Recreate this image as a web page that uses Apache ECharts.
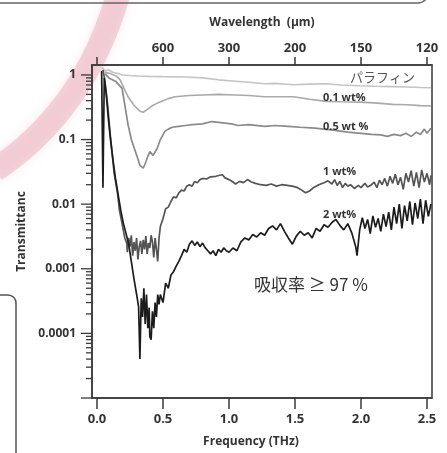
<!DOCTYPE html>
<html>
<head>
<meta charset="utf-8">
<script src="https://cdn.jsdelivr.net/npm/echarts@6/dist/echarts.min.js"></script>
<style>
  html, body { margin: 0; padding: 0; background: #fff; }
  #main { width: 447px; height: 453px; }
</style>
</head>
<body>
<div id="main"></div>
<script>
// frequency ticks (THz) and matching wavelength labels (um) on the top axis
var freqTicks = [0, 0.5, 1.0, 1.5, 2.0, 2.5];
var wavelengthLabels = ['', '600', '300', '200', '150', '120'];
var yLabels = { '-4': '0.0001', '-3': '0.001', '-2': '0.01', '-1': '0.1', '0': '1' };

// [frequency THz, transmittance]
var paraffin = [[0.04,1.3],[0.06,1.15],[0.09,1.2],[0.12,1.1],[0.16,1.05],[0.19,1.0],[0.25,0.98],[0.31,0.965],
  [0.40,0.95],[0.50,0.94],[0.67,0.93],[0.80,0.9],[0.92,0.84],[1.05,0.8],[1.15,0.77],[1.27,0.73],[1.35,0.74],
  [1.49,0.705],[1.61,0.72],[1.74,0.73],[1.85,0.70],[1.99,0.68],[2.10,0.67],[2.24,0.66],[2.35,0.65],[2.45,0.64],[2.53,0.635]];

var wt01 = [[0.06,1.1],[0.10,1.05],[0.15,0.95],[0.175,0.84],[0.205,0.62],[0.235,0.46],[0.28,0.34],[0.325,0.275],
  [0.35,0.265],[0.38,0.29],[0.415,0.33],[0.45,0.36],[0.49,0.39],[0.54,0.43],[0.59,0.46],[0.70,0.48],[0.80,0.49],
  [0.92,0.50],[1.05,0.49],[1.15,0.48],[1.27,0.46],[1.38,0.46],[1.49,0.46],[1.61,0.42],[1.74,0.39],[1.85,0.385],
  [1.99,0.38],[2.10,0.37],[2.24,0.35],[2.35,0.345],[2.45,0.335],[2.53,0.33]];

var wt05 = [[0.06,1.05],[0.09,0.9],[0.14,0.8],[0.19,0.62],[0.235,0.17],[0.26,0.10],[0.29,0.066],[0.31,0.05],
  [0.325,0.040],[0.35,0.036],[0.37,0.045],[0.38,0.052],[0.40,0.065],[0.425,0.057],[0.44,0.06],[0.455,0.072],
  [0.48,0.10],[0.515,0.135],[0.54,0.145],[0.57,0.155],[0.62,0.16],[0.67,0.165],[0.72,0.17],[0.80,0.175],
  [0.87,0.19],[0.92,0.185],[0.97,0.18],[1.02,0.175],[1.07,0.165],[1.15,0.17],[1.27,0.16],[1.35,0.165],
  [1.45,0.16],[1.54,0.155],[1.65,0.15],[1.79,0.14],[1.90,0.13],[2.00,0.125],[2.08,0.12],[2.15,0.118],
  [2.20,0.112],[2.25,0.12],[2.30,0.115],[2.34,0.125],[2.38,0.112],[2.42,0.13],[2.45,0.12],[2.48,0.145],
  [2.50,0.125],[2.53,0.15]];

var wt1 = [[0.045,1.2],[0.06,0.8],[0.08,0.35],[0.10,0.12],[0.115,0.06],[0.13,0.03],[0.155,0.015],[0.17,0.008],
  [0.19,0.005],[0.21,0.003],[0.225,0.0025],[0.23,0.0018],[0.24,0.0030],[0.25,0.0022],[0.26,0.0033],[0.27,0.0016],
  [0.28,0.0026],[0.29,0.0019],[0.30,0.0030],[0.31,0.0014],[0.32,0.0022],[0.33,0.0027],[0.34,0.0017],[0.35,0.0028],
  [0.36,0.0020],[0.37,0.0032],[0.38,0.0017],[0.39,0.0025],[0.40,0.0021],[0.41,0.0033],[0.42,0.0026],[0.43,0.0015],
  [0.44,0.0030],[0.45,0.0020],[0.46,0.0013],[0.47,0.0030],[0.48,0.0045],[0.50,0.0060],[0.52,0.0085],[0.54,0.0090],
  [0.56,0.0110],[0.58,0.0130],[0.60,0.0125],[0.62,0.0150],[0.64,0.0165],[0.66,0.0160],[0.68,0.0190],[0.70,0.0200],
  [0.72,0.0190],[0.74,0.0225],[0.76,0.0215],[0.78,0.0240],[0.80,0.0250],[0.83,0.0245],[0.86,0.0265],[0.90,0.0270],
  [0.93,0.0280],[0.95,0.0285],[0.97,0.0255],[1.00,0.0240],[1.03,0.0220],[1.05,0.0205],[1.08,0.0225],[1.11,0.0215],
  [1.14,0.0240],[1.17,0.0220],[1.20,0.0210],[1.24,0.0200],[1.28,0.0195],[1.32,0.0205],[1.36,0.0190],[1.40,0.0200],
  [1.44,0.0195],[1.48,0.0190],[1.52,0.0180],[1.55,0.0165],[1.58,0.0150],[1.61,0.0160],[1.64,0.0180],[1.68,0.0200],
  [1.72,0.0215],[1.75,0.0230],[1.78,0.0205],[1.80,0.0240],[1.82,0.0195],[1.84,0.0225],[1.86,0.0180],[1.88,0.0210],
  [1.90,0.0190],[1.92,0.0200],[1.95,0.0175],[1.98,0.0195],[2.00,0.0180],[2.03,0.0210],[2.05,0.0185],[2.08,0.0200],
  [2.10,0.0220],[2.12,0.0180],[2.14,0.0235],[2.16,0.0200],[2.18,0.0250],[2.20,0.0190],[2.22,0.0270],[2.24,0.0210],
  [2.26,0.0290],[2.28,0.0200],[2.30,0.0260],[2.32,0.0170],[2.34,0.0300],[2.36,0.0220],[2.38,0.0330],[2.40,0.0190],
  [2.42,0.0310],[2.44,0.0180],[2.46,0.0340],[2.48,0.0220],[2.50,0.0300],[2.52,0.0200],[2.53,0.0280]];

var wt2 = [[0.035,1.15],[0.045,0.018],[0.055,0.9],[0.07,0.5],[0.085,0.22],[0.10,0.11],[0.12,0.05],[0.14,0.025],
  [0.16,0.014],[0.18,0.008],[0.20,0.005],[0.22,0.0035],[0.24,0.0024],[0.26,0.0013],[0.28,0.0007],[0.30,0.0004],
  [0.315,0.00026],[0.325,0.00004],[0.335,0.00035],[0.345,0.00018],[0.355,0.0005],[0.365,0.00014],[0.375,0.0004],
  [0.385,0.00012],[0.395,0.00025],[0.40,0.00009],[0.41,0.00008],[0.42,0.00022],[0.43,0.00012],[0.44,0.0003],
  [0.45,0.00018],[0.46,0.0004],[0.47,0.00028],[0.48,0.0004],[0.50,0.0003],[0.52,0.0006],[0.54,0.0005],[0.56,0.0008],
  [0.58,0.0009],[0.60,0.0011],[0.62,0.0013],[0.64,0.0016],[0.66,0.0020],[0.68,0.0018],[0.70,0.0024],[0.72,0.0027],
  [0.74,0.0023],[0.76,0.0026],[0.78,0.0022],[0.80,0.0025],[0.82,0.0021],[0.84,0.0019],[0.86,0.0017],[0.88,0.0019],
  [0.90,0.0016],[0.92,0.0020],[0.94,0.0018],[0.96,0.0021],[0.98,0.0019],[1.00,0.0018],[1.03,0.0021],[1.06,0.0019],
  [1.09,0.0026],[1.12,0.0030],[1.15,0.0028],[1.18,0.0034],[1.21,0.0031],[1.24,0.0036],[1.27,0.0033],[1.30,0.0042],
  [1.33,0.0046],[1.36,0.0040],[1.39,0.0050],[1.42,0.0038],[1.45,0.0030],[1.48,0.0024],[1.51,0.0032],[1.54,0.0038],
  [1.57,0.0033],[1.60,0.0036],[1.63,0.0030],[1.66,0.0042],[1.69,0.0038],[1.72,0.0048],[1.75,0.0044],[1.78,0.0052],
  [1.81,0.0058],[1.84,0.0047],[1.87,0.0040],[1.90,0.0050],[1.93,0.0036],[1.96,0.0022],[1.97,0.0016],[1.99,0.0040],
  [2.01,0.0062],[2.03,0.0042],[2.05,0.0058],[2.07,0.0035],[2.09,0.0066],[2.11,0.0044],[2.13,0.0060],[2.15,0.0038],
  [2.17,0.0070],[2.19,0.0045],[2.21,0.0075],[2.23,0.0040],[2.25,0.0090],[2.27,0.0050],[2.29,0.0100],[2.31,0.0042],
  [2.33,0.0095],[2.35,0.0055],[2.37,0.0110],[2.39,0.0048],[2.41,0.0105],[2.43,0.0060],[2.45,0.0120],[2.47,0.0050],
  [2.49,0.0115],[2.51,0.0065],[2.53,0.0100]];

var X_MIN = -0.038, X_MAX = 2.538;
var Y_MIN = 0.00001, Y_MAX = 1.425;
var AXIS_COLOR = '#3a3a3a';
var FONT = '"Open Sans", "Liberation Sans", sans-serif';

// y ticks: majors at each decade, minors at 2..9 of each decade
var yTicks = [];
for (var k = -5; k <= 0; k++) {
  var base = Math.pow(10, k);
  yTicks.push([X_MIN, base, 11]);
  for (var m = 2; m <= 9; m++) {
    if (m * base < Y_MAX) yTicks.push([X_MIN, m * base, 6]);
  }
}

var chart = echarts.init(document.getElementById('main'));

function lineSeries(name, data, color, width) {
  return {
    name: name, type: 'line', data: data, showSymbol: false, symbol: 'none',
    lineStyle: { color: color, width: width }, silent: true, clip: true, z: 3
  };
}

var labelStyle = { fontFamily: FONT, fontWeight: 'bold', fontSize: 11, fill: '#333', verticalAlign: 'middle' };

chart.setOption({
  animation: false,
  backgroundColor: '#fff',
  grid: { left: 92, right: 15, top: 65, bottom: 53, show: true, borderColor: AXIS_COLOR, borderWidth: 1.5, backgroundColor: 'transparent' },
  xAxis: [
    {
      type: 'value', position: 'bottom', min: X_MIN, max: X_MAX,
      name: 'Frequency (THz)', nameLocation: 'middle', nameGap: 38,
      nameTextStyle: { fontFamily: FONT, fontWeight: 'bold', fontSize: 12, color: '#333', padding: [0, 22, 0, 0] },
      axisLine: { onZero: false, lineStyle: { color: AXIS_COLOR, width: 1.5 } },
      axisTick: { show: true, customValues: freqTicks, length: 11, lineStyle: { color: AXIS_COLOR, width: 1.5 } },
      axisLabel: { customValues: freqTicks, margin: 15, fontFamily: FONT, fontWeight: 'bold', fontSize: 13, color: '#333',
        formatter: function (v) { return v.toFixed(1); } },
      splitLine: { show: false }
    },
    {
      type: 'value', position: 'top', min: X_MIN, max: X_MAX,
      name: 'Wavelength  (µm)', nameLocation: 'middle', nameGap: 36,
      nameTextStyle: { fontFamily: FONT, fontWeight: 'bold', fontSize: 12, color: '#333' },
      axisLine: { onZero: false, lineStyle: { color: AXIS_COLOR, width: 1.5 } },
      axisTick: { show: true, customValues: freqTicks, length: 8, lineStyle: { color: AXIS_COLOR, width: 1.5 } },
      axisLabel: { customValues: freqTicks, margin: 10, fontFamily: FONT, fontWeight: 'bold', fontSize: 13, color: '#333',
        formatter: function (v) {
          var i = freqTicks.findIndex(function (t) { return Math.abs(t - v) < 1e-6; });
          return i >= 0 ? wavelengthLabels[i] : '';
        } },
      splitLine: { show: false }
    }
  ],
  yAxis: {
    type: 'log', logBase: 10, min: Y_MIN, max: Y_MAX,
    name: 'Transmittanc', nameLocation: 'middle', nameGap: 64, nameRotate: 90,
    nameTextStyle: { fontFamily: FONT, fontWeight: 'bold', fontSize: 12, color: '#333' },
    axisLine: { onZero: false, lineStyle: { color: AXIS_COLOR, width: 1.5 } },
    axisTick: { show: false },
    minorTick: { show: false },
    axisLabel: { margin: 16, fontFamily: FONT, fontWeight: 'bold', fontSize: 12, color: '#333',
      formatter: function (v) {
        var e = Math.log10(v), r = Math.round(e);
        if (Math.abs(e - r) > 1e-6) return '';
        return yLabels[String(r)] || '';
      } },
    splitLine: { show: false }
  },
  series: [
    lineSeries('パラフィン', paraffin, '#c4c4c4', 1.6),
    lineSeries('0.1 wt%', wt01, '#a9a9a9', 1.6),
    lineSeries('0.5 wt %', wt05, '#8a8a8a', 1.7),
    lineSeries('1 wt%', wt1, '#555555', 1.7),
    lineSeries('2 wt%', wt2, '#1c1c1c', 1.7),
    {
      name: 'yTicks', type: 'custom', silent: true, clip: false, z: 4,
      data: yTicks,
      renderItem: function (params, api) {
        var p = api.coord([api.value(0), api.value(1)]);
        return { type: 'line', shape: { x1: p[0] - api.value(2), y1: p[1], x2: p[0], y2: p[1] },
          style: { stroke: AXIS_COLOR, lineWidth: 1.3 } };
      }
    }
  ],
  graphic: [
    { type: 'bezierCurve', silent: true, z: -10,
      shape: { x1: 118, y1: -5, cpx1: 85, cpy1: 110, x2: -5, y2: 170 },
      style: { stroke: 'rgba(228,150,168,0.38)', lineWidth: 24, fill: null, shadowBlur: 12, shadowColor: 'rgba(228,150,168,0.5)' } },
    { type: 'rect', silent: true, z: -5,
      shape: { x: -20, y: -60, width: 448, height: 63, r: 10 },
      style: { fill: null, stroke: '#666', lineWidth: 1.5 } },
    { type: 'rect', silent: true, z: -5,
      shape: { x: -30, y: 295, width: 46, height: 200, r: 8 },
      style: { fill: null, stroke: '#555', lineWidth: 1.5 } },
    { type: 'text', silent: true, z: 10, style: { text: 'パラフィン', x: 350, y: 77, fontFamily: '"Noto Sans CJK JP", sans-serif', fontSize: 13, fill: '#555', verticalAlign: 'middle' } },
    { type: 'text', silent: true, z: 10, style: Object.assign({ text: '0.1 wt%', x: 323, y: 98 }, labelStyle) },
    { type: 'text', silent: true, z: 10, style: Object.assign({ text: '0.5 wt %', x: 323, y: 127 }, labelStyle) },
    { type: 'text', silent: true, z: 10, style: Object.assign({ text: '1 wt%', x: 323, y: 172 }, labelStyle) },
    { type: 'text', silent: true, z: 10, style: Object.assign({ text: '2 wt%', x: 323, y: 215 }, labelStyle) },
    { type: 'text', silent: true, z: 10, style: { text: '吸収率 ≥ 97 %', x: 254, y: 285, fontFamily: '"Noto Sans CJK JP", sans-serif', fontSize: 17, fill: '#333', verticalAlign: 'middle' } }
  ]
});
</script>
</body>
</html>
